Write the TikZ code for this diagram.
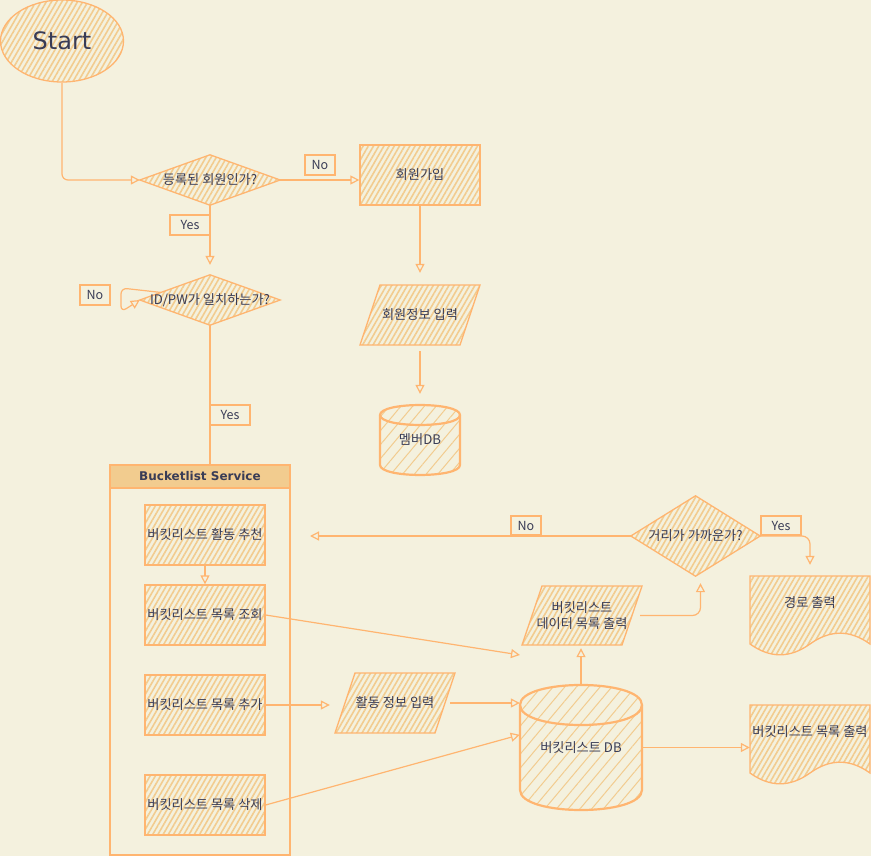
\documentclass[tikz,border=0pt]{standalone}
\usepackage{fontspec}
\setmainfont{Noto Sans CJK KR}
\newfontfamily\dejavu{DejaVu Sans}
\usetikzlibrary{patterns.meta,arrows.meta,calc,backgrounds,shapes.geometric}
\definecolor{bg}{HTML}{F4F1DE}
\definecolor{stk}{HTML}{FFB570}
\definecolor{hat}{HTML}{F2CC8F}
\definecolor{txt}{HTML}{393C56}
\tikzset{
  every node/.style={text=txt, font=\fontsize{13.2}{16}\selectfont},
  shp/.style={draw=stk, line width=1.3pt, pattern={Lines[angle=60,distance=4.5pt,line width=1.6pt]}, pattern color=hat},
  cyl/.style={draw=stk, line width=2.2pt, pattern={Lines[angle=50,distance=9pt,line width=1pt]}, pattern color=hat},
  cylline/.style={draw=stk, line width=2.2pt},
  boxnode/.style={shp, minimum width=120pt, minimum height=60pt, inner sep=0pt},
  txtnode/.style={inner sep=0pt},
  edge/.style={draw=stk, line width=1.2pt, -{Triangle[open,length=9pt,width=9pt]}},
  plain/.style={draw=stk, line width=1.2pt},
  tag/.style={draw=stk, line width=1.2pt, fill=bg, minimum height=20pt, inner sep=0pt, font=\fontsize{12.5}{14}\selectfont}
}
\begin{document}
\begin{tikzpicture}[x=1pt,y=-1pt]
\useasboundingbox (0,0) rectangle (871,856);
% ---------- text nodes ----------
\node[ellipse, shp, minimum width=123pt, minimum height=82pt, inner sep=0pt] (start) at (62,41) {\dejavu\fontsize{24}{28}\selectfont Start};
\node[txtnode, minimum width=140pt, minimum height=50pt] (d1) at (210,180) {등록된 회원인가?};
\node[boxnode] (join) at (420,175) {회원가입};
\node[txtnode, minimum width=120pt, minimum height=60pt] (p1) at (420,315) {회원정보 입력};
\node[txtnode, minimum width=80pt, minimum height=70pt] (c1) at (420,440) {멤버DB};
\node[txtnode, minimum width=140pt, minimum height=50pt] (d2) at (210,300) {ID/PW가 일치하는가?};
% container
\node[draw=stk, line width=1.2pt, minimum width=180pt, minimum height=390pt, inner sep=0pt] (svc) at (200,660) {};
\node[draw=stk, line width=1.2pt, fill=hat, minimum width=180pt, minimum height=23pt, inner sep=0pt, anchor=north] (svchead) at (svc.north) {\dejavu\bfseries\fontsize{12}{14}\selectfont Bucketlist Service};
\node[boxnode] (b1) at (205,535) {버킷리스트 활동 추천};
\node[boxnode] (b2) at (205,615) {버킷리스트 목록 조회};
\node[boxnode] (b3) at (205,705) {버킷리스트 목록 추가};
\node[boxnode] (b4) at (205,805) {버킷리스트 목록 삭제};
\node[txtnode, minimum width=120pt, minimum height=60pt] (p3) at (395,703) {활동 정보 입력};
\node[txtnode, minimum width=122pt, minimum height=125pt] (c2) at (581,747.5) {버킷리스트 DB};
\node[txtnode, minimum width=120pt, minimum height=59pt, align=center] (p2) at (582,615.5) {버킷리스트\\데이터 목록 출력};
\node[txtnode, minimum width=129pt, minimum height=80pt] (d3) at (695.5,536) {거리가 가까운가?};
\node[txtnode, minimum width=120pt, minimum height=54pt] (doc1) at (810,603) {경로 출력};
\node[txtnode, minimum width=120pt, minimum height=54pt] (doc2) at (810,732) {버킷리스트 목록 출력};
\coordinate (e1) at (520,655);
\coordinate (e2) at (310,536);
% ---------- shapes on background ----------
\begin{scope}[on background layer]
\fill[bg] (0,0) rectangle (871,856);
\path[shp] (d1.west) -- (d1.north) -- (d1.east) -- (d1.south) -- cycle;
\path[shp] (d2.west) -- (d2.north) -- (d2.east) -- (d2.south) -- cycle;
\path[shp] (d3.west) -- (d3.north) -- (d3.east) -- (d3.south) -- cycle;
\path[shp] (380,285) -- (480,285) -- (460,345) -- (360,345) -- cycle;
\path[shp] (355,673) -- (455,673) -- (435,733) -- (335,733) -- cycle;
\path[shp] (542,586) -- (642,586) -- (622,645) -- (522,645) -- cycle;
% member DB
\path[cyl] (380,415) -- (380,465) .. controls (380,478.3) and (460,478.3) .. (460,465) -- (460,415) .. controls (460,401.7) and (380,401.7) .. (380,415) -- cycle;
\draw[cylline] (380,415) .. controls (380,428.3) and (460,428.3) .. (460,415);
% bucketlist DB
\path[cyl] (520,705) -- (520,790) .. controls (520,816.7) and (642,816.7) .. (642,790) -- (642,705) .. controls (642,678.3) and (520,678.3) .. (520,705) -- cycle;
\draw[cylline] (520,705) .. controls (520,731.7) and (642,731.7) .. (642,705);
% documents
\path[shp] (750,576) -- (870,576) -- (870,644) .. controls (850,629.6) and (830,629.6) .. (810,644) .. controls (790,658.4) and (770,658.4) .. (750,644) -- cycle;
\path[shp] (750,705) -- (870,705) -- (870,773) .. controls (850,758.6) and (830,758.6) .. (810,773) .. controls (790,787.4) and (770,787.4) .. (750,773) -- cycle;
\end{scope}
% ---------- connectors ----------
\draw[edge, rounded corners=6pt] (start.south) |- (d1.west);
\draw[edge] (d1.east) -- (d1.east -| join.west);
\draw[edge, shorten >=12pt] (join.south) -- (p1.north);
\draw[edge, shorten >=11pt, shorten <=6pt] (p1.south) -- (c1.north);
\draw[edge, shorten >=10pt] (d1.south) -- (d2.north);
\draw[edge, rounded corners=6pt] ($(d2.west)!0.3!(d2.north)$) -- (121,288) -- (121,312) -- (d2.west);
\draw[plain] (d2.south) -- (d2.south |- svc.north);
\draw[edge] (b1.south) -- (b2.north);
\draw[edge] (b2.east) -- (e1);
\draw[edge, shorten >=5pt] (b3.east) -- (b3.east -| p3.west);
\draw[edge] ([xshift=-5pt]p3.east) -- (c2.west |- p3.east);
\draw[edge] (b4.east) -- ($(c2.north west)+(0,50)$);
\draw[edge] (c2.east) -- (c2.east -| doc2.west);
\draw[edge, shorten >=3pt] (c2.north) -- (c2.north |- p2.south);
\draw[edge, rounded corners=8pt, shorten >=7pt] ([xshift=-2pt]p2.east) -| ([xshift=5pt]d3.south);
\draw[edge] (d3.west) -- (e2);
\draw[edge, rounded corners=8pt, shorten >=11pt] (d3.east) -| (doc1.north);
% ---------- edge labels ----------
\node[tag, minimum width=30pt] (t1) at (320,165) {No};
\node[tag, minimum width=40pt] (t2) at (190,225) {Yes};
\node[tag, minimum width=30pt] (t3) at (95,295) {No};
\node[tag, minimum width=40pt] (t4) at (230,415) {Yes};
\node[tag, minimum width=30pt, minimum height=19pt] (t5) at (526,525.5) {No};
\node[tag, minimum width=40pt, minimum height=19pt] (t6) at (781,525.5) {Yes};
\end{tikzpicture}
\end{document}
